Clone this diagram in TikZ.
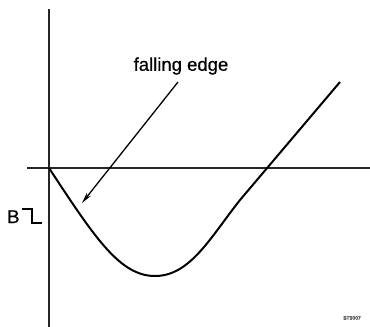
\documentclass[tikz,border=0pt]{standalone}
\usepackage{fontspec}
\setmainfont{Liberation Sans}[FakeBold=0.6]
\usetikzlibrary{arrows.meta}
\begin{document}
\begin{tikzpicture}[x=1pt,y=-1pt,
  axis/.style={line width=1.2pt,black!85},
  curve/.style={line width=2pt,black},
  pointer/.style={line width=1.3pt,-{Stealth[length=11pt,width=5pt]}},
  lbl/.style={font=\fontsize{18.5}{20}\selectfont,inner sep=0pt},
  code/.style={font=\fontsize{5}{6}\selectfont\bfseries,inner sep=0pt,black!70}]
\useasboundingbox (0,0) rectangle (370,327);
% axes
\coordinate (vtop) at (49,9);
\coordinate (vbot) at (49,327);
\coordinate (hl) at (27,168);
\coordinate (hr) at (370,168);
\draw[axis] (vtop) -- (vbot);
\draw[axis] (hl) -- (hr);
% curve
\coordinate (c0) at (49,168);
\coordinate (cmin) at (155,276);
\coordinate (c2) at (240,200);
\coordinate (c3) at (340,82);
\draw[curve] (c0) .. controls (95,238) and (120,276) .. (cmin)
  .. controls (190,276) and (210,238) .. (c2) -- (c3);
% label and arrow
\node[lbl] (fe) at (181,66) {falling edge};
\coordinate (atail) at (178,82);
\coordinate (atip) at (82,203);
\draw[pointer] (atail) -- (atip);
% B with falling-edge symbol
\node[lbl,anchor=base west] (B) at (7,223) {B};
\draw[line width=1.6pt] (22,209) -- (32,209) -- (32,223) -- (42,223);
% figure code
\node[code] (fig) at (352,318) {ST5007};
\end{tikzpicture}
\end{document}
